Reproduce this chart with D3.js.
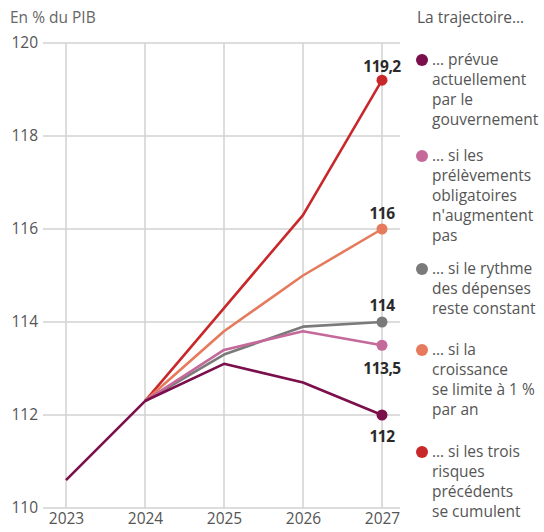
<!DOCTYPE html>
<html>
<head>
<meta charset="utf-8">
<script src="https://cdn.jsdelivr.net/npm/d3@7"></script>
<style>
  body { margin: 0; background: #fff; }
  svg { display: block; font-family: "Open Sans", sans-serif; }
</style>
</head>
<body>
<svg class="graf" width="544" height="532"></svg>
<script>
// données (en % du PIB)
const annees = [2023, 2024, 2025, 2026, 2027];
const ticks_y = [110, 112, 114, 116, 118, 120];

const traj_gouvernement = [110.6, 112.3, 113.1, 112.7, 112];
const traj_prelevements = [null, 112.3, 113.4, 113.8, 113.5];
const traj_depenses     = [null, 112.3, 113.3, 113.9, 114];
const traj_croissance   = [null, 112.3, 113.8, 115.0, 116];
const traj_cumul        = [null, 112.3, 114.3, 116.3, 119.2];

const etiquettes_fin = ["112", "113,5", "114", "116", "119,2"];

const legendes = [
  ["… prévue", "actuellement", "par le", "gouvernement"],
  ["… si les", "prélèvements", "obligatoires", "n'augmentent", "pas"],
  ["… si le rythme", "des dépenses", "reste constant"],
  ["… si la", "croissance", "se limite à 1 %", "par an"],
  ["… si les trois", "risques", "précédents", "se cumulent"]
];

const couleurs = ["#7a0f4c", "#c4699a", "#7a7a7a", "#e67a5c", "#c9282b"];

const series = [traj_gouvernement, traj_prelevements, traj_depenses, traj_croissance, traj_cumul];

const svg = d3.select("svg.graf");

const margin = { top: 43, right: 162, bottom: 24, left: 66 };
const largeur = 544, hauteur = 532;

const x = d3.scalePoint()
  .domain(annees)
  .range([margin.left, largeur - margin.right]);

const y = d3.scaleLinear()
  .domain([110, 120])
  .range([hauteur - margin.bottom, margin.top]);

const cor_grade = "#d2d2d2";
const cor_texto = "#555";

// sous-titre
svg.append("text")
  .attr("x", 10).attr("y", 23)
  .attr("font-size", 15.5)
  .attr("fill", "#666")
  .text("En % du PIB");

// grille horizontale
svg.append("g")
  .selectAll("line")
  .data(ticks_y)
  .join("line")
  .attr("x1", 43).attr("x2", x(2027) + 18)
  .attr("y1", d => y(d)).attr("y2", d => y(d))
  .attr("stroke", cor_grade)
  .attr("stroke-width", 1.5);

// grille verticale
svg.append("g")
  .selectAll("line")
  .data(annees)
  .join("line")
  .attr("x1", d => x(d)).attr("x2", d => x(d))
  .attr("y1", y(120)).attr("y2", y(110))
  .attr("stroke", cor_grade)
  .attr("stroke-width", 1.5);

// axe y
const eixo_y = d3.axisLeft(y).tickValues(ticks_y).tickSize(0).tickPadding(0);
const $eixo_y = svg.append("g")
  .attr("transform", "translate(38,0)")
  .call(eixo_y);
$eixo_y.select(".domain").remove();
$eixo_y.selectAll("text")
  .attr("font-family", "Open Sans, sans-serif")
  .attr("font-size", 15.5)
  .attr("fill", cor_texto);

// axe x
const eixo_x = d3.axisBottom(x).tickSize(0).tickPadding(0).tickFormat(d3.format("d"));
const $eixo_x = svg.append("g")
  .attr("transform", "translate(0," + (y(110) + 5) + ")")
  .call(eixo_x);
$eixo_x.select(".domain").remove();
$eixo_x.selectAll("text")
  .attr("font-family", "Open Sans, sans-serif")
  .attr("font-size", 15.5)
  .attr("fill", cor_texto);

// lignes
const linha = d3.line()
  .defined(d => d.v !== null)
  .x(d => x(d.ano))
  .y(d => y(d.v));

const ordem = [4, 3, 2, 1, 0];
for (const i of ordem) {
  const dados = annees.map((ano, j) => ({ ano: ano, v: series[i][j] }));
  svg.append("path")
    .datum(dados)
    .attr("fill", "none")
    .attr("stroke", couleurs[i])
    .attr("stroke-width", 2.6)
    .attr("stroke-linejoin", "round")
    .attr("d", linha);
}

// points finaux + étiquettes
const decalage = [22, 23, -16, -15, -14];
series.forEach((s, i) => {
  const v = s[s.length - 1];
  svg.append("circle")
    .attr("cx", x(2027)).attr("cy", y(v))
    .attr("r", 5.5)
    .attr("fill", couleurs[i]);
  svg.append("text")
    .attr("x", x(2027)).attr("y", y(v) + decalage[i])
    .attr("dy", "0.35em")
    .attr("text-anchor", "middle")
    .attr("font-size", 15.5)
    .attr("font-weight", "bold")
    .attr("letter-spacing", -0.5)
    .attr("fill", "#2a2a2a")
    .text(etiquettes_fin[i]);
});

// légende
svg.append("text")
  .attr("x", 417).attr("y", 23)
  .attr("font-size", 15.5)
  .attr("fill", "#555")
  .text("La trajectoire…");

const pos_leg = [60, 156, 269, 350, 452];
const $leg = svg.append("g");
legendes.forEach((linhas, i) => {
  const g = $leg.append("g").attr("transform", "translate(0," + pos_leg[i] + ")");
  g.append("circle").attr("cx", 422).attr("cy", 0).attr("r", 6).attr("fill", couleurs[i]);
  g.selectAll("text")
    .data(linhas)
    .join("text")
    .attr("x", 432)
    .attr("y", (d, k) => k * 20)
    .attr("dy", "0.35em")
    .attr("font-size", 15.5)
    .attr("fill", "#555")
    .text(d => d);
});
</script>
</body>
</html>
